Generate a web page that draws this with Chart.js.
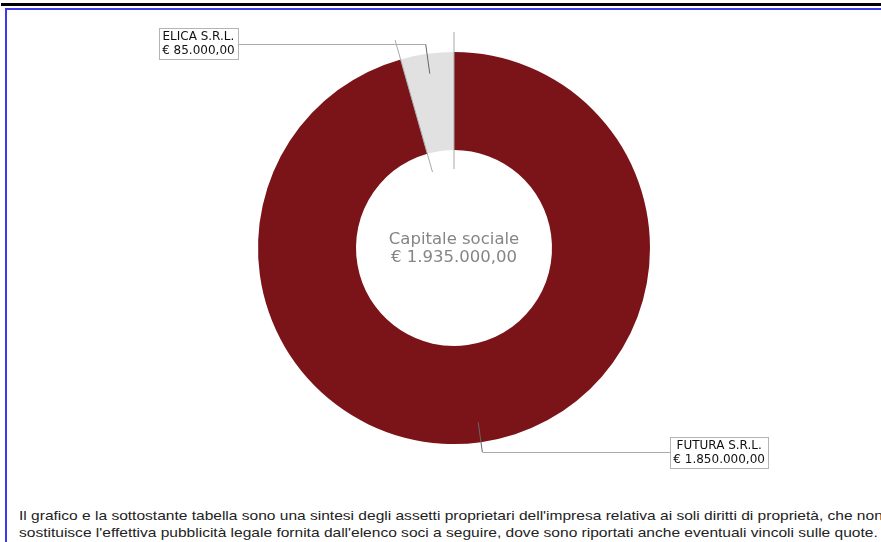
<!DOCTYPE html>
<html>
<head>
<meta charset="utf-8">
<script src="https://cdn.jsdelivr.net/npm/chart.js@4/dist/chart.umd.min.js"></script>
<style>
  html, body { margin: 0; padding: 0; background: #fff; }
  body { width: 881px; height: 542px; position: relative; overflow: hidden; }
  .topbar { position: absolute; left: 1px; right: 0; top: 3px; height: 3px; background: #000; }
  .frame-top { position: absolute; left: 5px; right: 0; top: 8px; height: 2px; background: #3a3ae8; }
  .frame-left { position: absolute; left: 5px; top: 8px; bottom: 0; width: 2px; background: #3a3ae8; }
  #wrap { position: absolute; left: 0; top: 0; width: 881px; height: 490px; }
  .note {
    position: absolute; left: 19px; top: 507px; width: 870px;
    font-family: "Liberation Sans", Arial, sans-serif; font-size: 13.4px;
    line-height: 17px; color: #222; white-space: nowrap;
    transform: scaleX(1.16); transform-origin: 0 0;
  }
</style>
</head>
<body>
<div class="topbar"></div>
<div class="frame-top"></div>
<div class="frame-left"></div>
<div id="wrap"><canvas id="chart" width="881" height="490"></canvas></div>
<div class="note">
  Il grafico e la sottostante tabella sono una sintesi degli assetti proprietari dell'impresa relativa ai soli diritti di proprietà, che non<br>
  sostituisce l'effettiva pubblicità legale fornita dall'elenco soci a seguire, dove sono riportati anche eventuali vincoli sulle quote.
</div>
<script>
const soci = ['FUTURA S.R.L.', 'ELICA S.R.L.'];
const quote = [1850000, 85000];
const colori = ['#7b1418', '#e1e1e1'];
const titoloCentro = 'Capitale sociale';

// formato euro italiano, es. € 1.850.000,00
function euro(v) {
  const parts = v.toFixed(2).split('.');
  const intero = parts[0].replace(/\B(?=(\d{3})+(?!\d))/g, '.');
  return '€ ' + intero + ',' + parts[1];
}

const totale = quote.reduce((a, b) => a + b, 0);

const labelPlugin = {
  id: 'soci',
  afterDatasetsDraw(chart) {
    const ctx = chart.ctx;
    const arcs = chart.getDatasetMeta(0).data;
    ctx.save();

    // linee radiali sui confini delle fette
    ctx.strokeStyle = '#a8a8a8';
    ctx.lineWidth = 1;
    arcs.forEach((arc) => {
      const a = arc.startAngle;
      const r0 = arc.innerRadius - 19, r1 = arc.outerRadius + 20;
      ctx.beginPath();
      ctx.moveTo(arc.x + Math.cos(a) * r0, arc.y + Math.sin(a) * r0);
      ctx.lineTo(arc.x + Math.cos(a) * r1, arc.y + Math.sin(a) * r1);
      ctx.stroke();
    });

    // etichette con linee di richiamo
    ctx.font = '12px "DejaVu Sans"';
    arcs.forEach((arc, i) => {
      const mid = (arc.startAngle + arc.endAngle) / 2;
      const cos = Math.cos(mid), sin = Math.sin(mid);
      const r0 = arc.outerRadius - 20, r1 = arc.outerRadius + 10;
      const x0 = arc.x + cos * r0, y0 = arc.y + sin * r0;
      const x1 = arc.x + cos * r1, y1 = arc.y + sin * r1;
      const dir = cos >= 0 ? 1 : -1;
      const x2 = x1 + dir * 188;

      ctx.strokeStyle = '#666';
      ctx.beginPath();
      ctx.moveTo(x0, y0);
      ctx.lineTo(x1, y1);
      ctx.stroke();
      ctx.strokeStyle = '#aaa';
      ctx.beginPath();
      ctx.moveTo(x1, Math.round(y1) + 0.5);
      ctx.lineTo(x2, Math.round(y1) + 0.5);
      ctx.stroke();

      const lines = [soci[i], euro(quote[i])];
      const w = Math.max(...lines.map(t => ctx.measureText(t).width)) + 6;
      const h = 31;
      const bx = dir > 0 ? x2 : x2 - w;
      const by = Math.round(y1 - h / 2);
      ctx.fillStyle = '#fff';
      ctx.fillRect(bx, by, w, h);
      ctx.strokeStyle = '#b4b4b4';
      ctx.strokeRect(Math.round(bx) + 0.5, by + 0.5, Math.round(w), h);
      ctx.fillStyle = '#111';
      ctx.textAlign = 'center';
      ctx.textBaseline = 'middle';
      ctx.fillText(lines[0], bx + w / 2, by + 8.5);
      ctx.fillText(lines[1], bx + w / 2, by + 23);
    });

    // testo centrale
    const c = arcs[0];
    ctx.fillStyle = '#858585';
    ctx.font = '16.5px "DejaVu Sans"';
    ctx.textAlign = 'center';
    ctx.textBaseline = 'middle';
    ctx.fillText(titoloCentro, c.x, c.y - 8);
    ctx.fillText(euro(totale), c.x, c.y + 10);
    ctx.restore();
  }
};

new Chart(document.getElementById('chart').getContext('2d'), {
  type: 'doughnut',
  data: {
    labels: soci,
    datasets: [{
      data: quote,
      backgroundColor: colori,
      borderWidth: 0,
      hoverOffset: 0,
    }],
  },
  options: {
    responsive: false,
    animation: false,
    cutout: '50%',
    layout: { padding: { top: 52, bottom: 46, left: 27, right: 0 } },
    plugins: {
      legend: { display: false },
      tooltip: { enabled: false },
    },
  },
  plugins: [labelPlugin],
});
</script>
</body>
</html>
